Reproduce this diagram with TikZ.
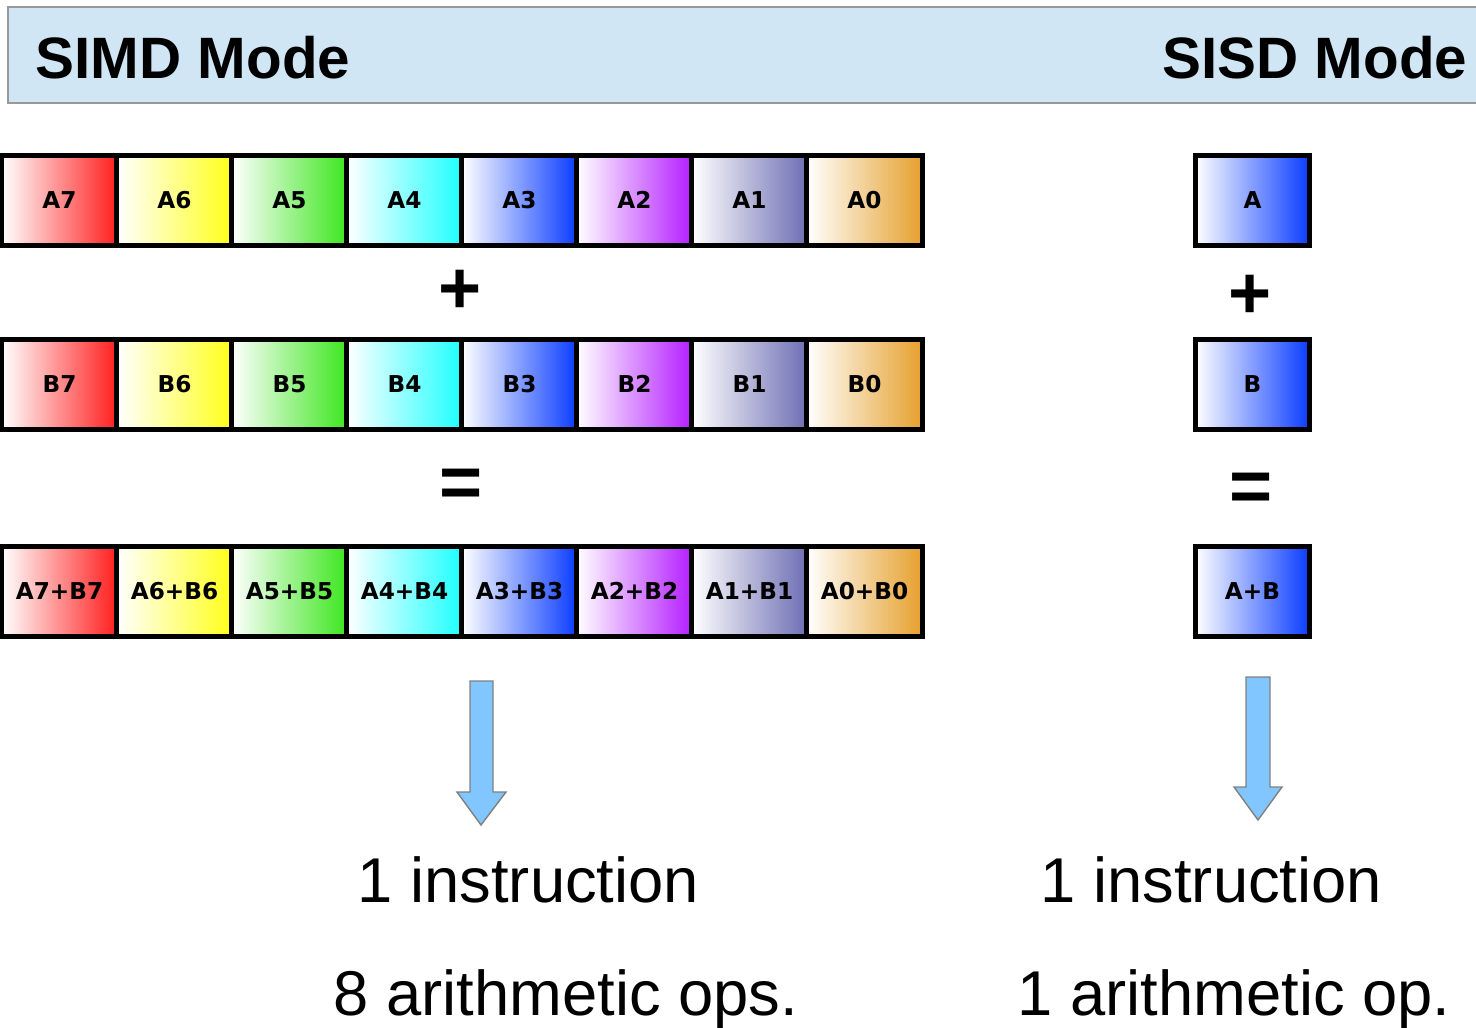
\documentclass[tikz,border=0pt]{standalone}
\usepackage{fontspec}
\setmainfont{Liberation Sans}
\newfontfamily\cellfont{DejaVu Sans}
\usepackage{tikz}

\definecolor{bandblue}{HTML}{D0E6F4}
\definecolor{arrowblue}{HTML}{82C6FF}
\definecolor{c7}{HTML}{FF1E1E}
\definecolor{c6}{HTML}{FFFF1A}
\definecolor{c5}{HTML}{3CE61E}
\definecolor{c4}{HTML}{1EFFFF}
\definecolor{c3}{HTML}{0A3CFF}
\definecolor{c2}{HTML}{B41EFF}
\definecolor{c1}{HTML}{6E6EB4}
\definecolor{c0}{HTML}{E6A02D}

\tikzstyle{cell}=[draw,line width=0.05cm,minimum width=1.15cm,minimum height=0.9cm,inner sep=0pt,text height=4.8pt,text depth=0pt,left color=white,font=\cellfont\bfseries\fontsize{6.6}{8}\selectfont]
\tikzstyle{single}=[cell,minimum width=1.14cm,right color=c3]
\tikzstyle{op}=[font=\bfseries\fontsize{21}{21}\selectfont]
\tikzstyle{title}=[anchor=base west,inner sep=0pt,font=\bfseries\fontsize{16.6}{17}\selectfont]
\tikzstyle{count}=[anchor=base west,inner sep=0pt,font=\fontsize{18}{18}\selectfont]
\tikzstyle{bigarrow}=[draw=gray,fill=arrowblue,line width=0.4pt]

\begin{document}
\begin{tikzpicture}[x=0.01cm,y=-0.01cm]
        \useasboundingbox (0,0) rectangle (1476,1027);
        % mode band
        \path[draw=gray!80,fill=bandblue] (8,7) rectangle (1490,103);
        \node[title] (simd) at (35,78) {SIMD Mode};
        \node[title,anchor=base east] (sisd) at (1468,78) {SISD Mode};
        % SIMD operands
        \node[cell,right color=c7] (a7) at (59.5,200.5) {A7};
        \node[cell,right color=c6] (a6) at (174.5,200.5) {A6};
        \node[cell,right color=c5] (a5) at (289.5,200.5) {A5};
        \node[cell,right color=c4] (a4) at (404.5,200.5) {A4};
        \node[cell,right color=c3] (a3) at (519.5,200.5) {A3};
        \node[cell,right color=c2] (a2) at (634.5,200.5) {A2};
        \node[cell,right color=c1] (a1) at (749.5,200.5) {A1};
        \node[cell,right color=c0] (a0) at (864.5,200.5) {A0};
        \node[op] (plus) at (460,292) {+};
        \node[cell,right color=c7] (b7) at (59.5,384.5) {B7};
        \node[cell,right color=c6] (b6) at (174.5,384.5) {B6};
        \node[cell,right color=c5] (b5) at (289.5,384.5) {B5};
        \node[cell,right color=c4] (b4) at (404.5,384.5) {B4};
        \node[cell,right color=c3] (b3) at (519.5,384.5) {B3};
        \node[cell,right color=c2] (b2) at (634.5,384.5) {B2};
        \node[cell,right color=c1] (b1) at (749.5,384.5) {B1};
        \node[cell,right color=c0] (b0) at (864.5,384.5) {B0};
        \node[op] (equals) at (461,488) {=};
        \node[cell,right color=c7] (s7) at (59.5,591.5) {A7+B7};
        \node[cell,right color=c6] (s6) at (174.5,591.5) {A6+B6};
        \node[cell,right color=c5] (s5) at (289.5,591.5) {A5+B5};
        \node[cell,right color=c4] (s4) at (404.5,591.5) {A4+B4};
        \node[cell,right color=c3] (s3) at (519.5,591.5) {A3+B3};
        \node[cell,right color=c2] (s2) at (634.5,591.5) {A2+B2};
        \node[cell,right color=c1] (s1) at (749.5,591.5) {A1+B1};
        \node[cell,right color=c0] (s0) at (864.5,591.5) {A0+B0};
        % SISD operands
        \node[single] (sa) at (1252.5,200.5) {A};
        \node[op] (splus) at (1250,297) {+};
        \node[single] (sb) at (1252.5,384.5) {B};
        \node[op] (sequals) at (1251,492) {=};
        \node[single] (ssum) at (1252.5,591.5) {A+B};
        % block arrows
        \path[bigarrow] (470,681) -- (493,681) -- (493,792) -- (506,792) -- (481,825) -- (457,792) -- (470,792) -- cycle;
        \path[bigarrow] (1246,677) -- (1270,677) -- (1270,787) -- (1282,787) -- (1258,820) -- (1234,787) -- (1246,787) -- cycle;
        % counts
        \node[count] (simdinstr) at (357,902) {1 instruction};
        \node[count] (simdops) at (333,1015) {8 arithmetic ops.};
        \node[count] (sisdinstr) at (1040,902) {1 instruction};
        \node[count] (sisdops) at (1017,1015) {1 arithmetic op.};
    \end{tikzpicture}
\end{document}
